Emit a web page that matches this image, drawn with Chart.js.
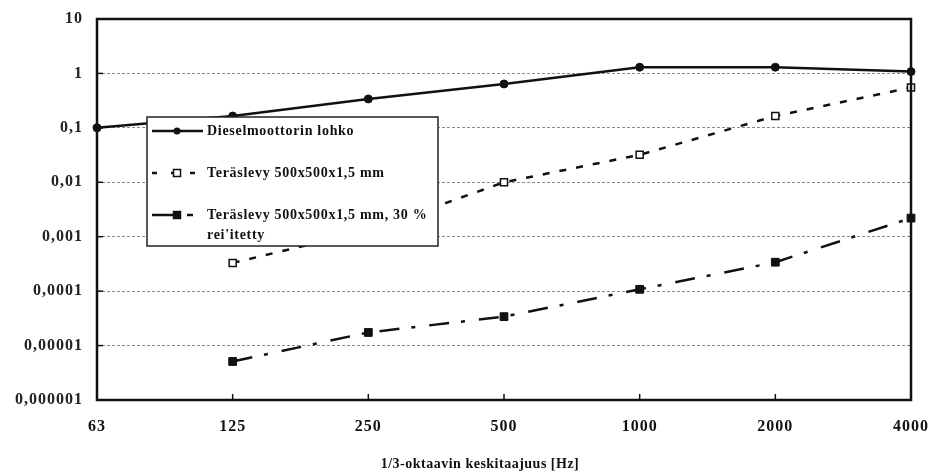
<!DOCTYPE html>
<html>
<head>
<meta charset="utf-8">
<script src="https://cdn.jsdelivr.net/npm/chart.js@4/dist/chart.umd.min.js"></script>
<style>
  html, body { margin: 0; padding: 0; background: #fff; }
  #wrap { width: 932px; height: 475px; }
</style>
</head>
<body>
<div id="wrap"><canvas id="chart"></canvas></div>
<script>
// 1/3-oktaavikaistat
const bands = ['63', '125', '250', '500', '1000', '2000', '4000'];

const dieselBlock = [0.1, 0.165, 0.34, 0.64, 1.3, 1.3, 1.08];
const steelPlate = [null, 0.00033, 0.0013, 0.01, 0.032, 0.165, 0.55];
const steelPlatePerforated = [null, 0.0000051, 0.0000174, 0.000034, 0.000108, 0.00034, 0.0022];

const seriesNames = [
  'Dieselmoottorin lohko',
  'Teräslevy 500x500x1,5 mm',
  ['Teräslevy 500x500x1,5 mm, 30 %', "rei'itetty"]
];
const xTitle = '1/3-oktaavin keskitaajuus [Hz]';

const yMin = 0.000001;
const yMax = 10;

const serif = '"Liberation Serif", "DejaVu Serif", serif';

function isDecade(v) {
  const l = Math.log10(v);
  return Math.abs(l - Math.round(l)) < 1e-9;
}

function fmtDecade(v) {
  const n = Math.round(Math.log10(v));
  if (n >= 0) return String(Math.round(v));
  return '0,' + '0'.repeat(-n - 1) + '1';
}

const datasets = [
  {
    label: seriesNames[0],
    data: dieselBlock,
    borderColor: '#111',
    backgroundColor: '#111',
    borderWidth: 2.5,
    pointStyle: 'circle',
    pointRadius: 4,
    pointBorderWidth: 1
  },
  {
    label: seriesNames[1],
    data: steelPlate,
    borderColor: '#111',
    backgroundColor: '#fff',
    borderWidth: 2.5,
    borderDash: [7, 10],
    pointStyle: 'rect',
    pointRadius: 5,
    pointBorderWidth: 1.5
  },
  {
    label: seriesNames[2].join(' '),
    data: steelPlatePerforated,
    borderColor: '#111',
    backgroundColor: '#111',
    borderWidth: 2.5,
    borderDash: [20, 12, 4, 14],
    pointStyle: 'rect',
    pointRadius: 5.5,
    pointBorderWidth: 1
  }
];

// leveämpi kirjainväli kaikelle tekstille
const spacing = {
  id: 'spacing',
  beforeDraw(chart) {
    chart.ctx.letterSpacing = '1px';
  }
};

// kehys ja sisäänpäin osoittavat asteikkoviivat
const framePlugin = {
  id: 'frame',
  afterDatasetsDraw(chart) {
    const { ctx, chartArea: a, scales } = chart;
    ctx.save();
    ctx.strokeStyle = '#111';
    ctx.lineWidth = 1.5;
    scales.x.ticks.forEach((t, i) => {
      const x = scales.x.getPixelForTick(i);
      ctx.beginPath();
      ctx.moveTo(x, a.bottom);
      ctx.lineTo(x, a.bottom - 6);
      ctx.stroke();
    });
    scales.y.ticks.forEach((t) => {
      if (!isDecade(t.value)) return;
      const y = scales.y.getPixelForValue(t.value);
      ctx.beginPath();
      ctx.moveTo(a.left, y);
      ctx.lineTo(a.left + 6, y);
      ctx.stroke();
    });
    ctx.lineWidth = 2.5;
    ctx.strokeRect(a.left, a.top, a.right - a.left, a.bottom - a.top);
    ctx.restore();
  }
};

// selitelaatikko piirtoalueen sisällä ja x-akselin otsikko
const boxLegend = {
  id: 'boxLegend',
  afterDraw(chart) {
    const { ctx } = chart;
    const x0 = 147, y0 = 117, w = 291, h = 129;
    ctx.save();
    ctx.fillStyle = '#fff';
    ctx.fillRect(x0, y0, w, h);
    ctx.strokeStyle = '#222';
    ctx.lineWidth = 1.5;
    ctx.strokeRect(x0, y0, w, h);

    const rows = [131, 173, 215];
    ctx.font = 'bold 14px ' + serif;
    ctx.letterSpacing = '0.7px';
    ctx.textBaseline = 'middle';
    datasets.forEach((ds, i) => {
      const y = rows[i];
      ctx.strokeStyle = ds.borderColor;
      ctx.lineWidth = 2.5;
      ctx.setLineDash(i === 0 ? [] : (i === 1 ? [5, 14] : [26, 9, 6, 30]));
      ctx.beginPath();
      ctx.moveTo(x0 + 5, y);
      ctx.lineTo(x0 + 56, y);
      ctx.stroke();
      ctx.setLineDash([]);
      const mx = x0 + 30;
      ctx.fillStyle = ds.backgroundColor;
      ctx.lineWidth = 1.5;
      if (i === 0) {
        ctx.beginPath();
        ctx.arc(mx, y, 3.5, 0, Math.PI * 2);
        ctx.fill();
      } else {
        ctx.fillRect(mx - 3.5, y - 3.5, 7, 7);
        ctx.strokeRect(mx - 3.5, y - 3.5, 7, 7);
      }
      ctx.fillStyle = '#111';
      const name = seriesNames[i];
      if (Array.isArray(name)) {
        name.forEach((line, k) => ctx.fillText(line, x0 + 60, y + k * 20));
      } else {
        ctx.fillText(name, x0 + 60, y);
      }
    });

    ctx.font = 'bold 14px ' + serif;
    ctx.letterSpacing = '0.5px';
    ctx.textAlign = 'center';
    ctx.fillText(xTitle, 480, 464);
    ctx.restore();
  }
};

new Chart(document.getElementById('chart'), {
  type: 'line',
  data: { labels: bands, datasets },
  plugins: [spacing, framePlugin, boxLegend],
  options: {
    responsive: true,
    maintainAspectRatio: false,
    animation: false,
    spanGaps: false,
    layout: { padding: { top: 19, right: 21, left: 0, bottom: 0 } },
    plugins: {
      legend: { display: false },
      tooltip: { enabled: false }
    },
    scales: {
      x: {
        type: 'category',
        offset: false,
        grid: { display: false, drawTicks: false },
        border: { display: false },
        ticks: {
          color: '#111',
          padding: 17,
          maxRotation: 0,
          font: { family: serif, size: 16, weight: 'bold' }
        },
        afterFit(scale) {
          scale.height = 75;
          scale.paddingLeft = 0;
          scale.paddingRight = 0;
        }
      },
      y: {
        type: 'logarithmic',
        min: yMin,
        max: yMax,
        grid: {
          drawTicks: false,
          lineWidth: 1,
          color: (c) => (c.tick && isDecade(c.tick.value)) ? '#8a8a8a' : 'rgba(0,0,0,0)'
        },
        border: { display: false, dash: [3, 2] },
        ticks: {
          autoSkip: false,
          color: '#222',
          padding: 14,
          font: { family: serif, size: 16, weight: 'bold' },
          callback: (v) => isDecade(v) ? fmtDecade(v) : ''
        },
        afterFit(scale) {
          scale.width = 97;
          scale.paddingTop = 0;
          scale.paddingBottom = 0;
        }
      }
    }
  }
});
</script>
</body>
</html>
